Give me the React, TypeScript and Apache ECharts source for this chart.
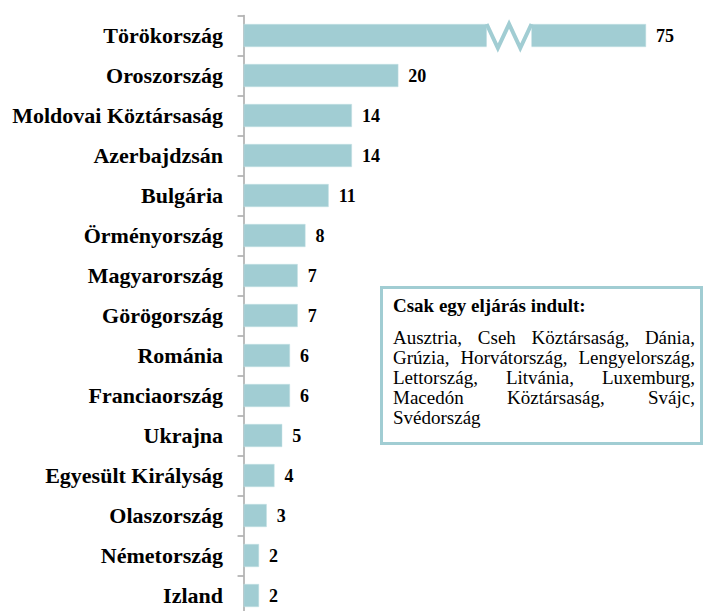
import React, { useEffect, useRef } from 'react';
import * as echarts from 'echarts';

const categories = [
  'Törökország', 'Oroszország', 'Moldovai Köztársaság', 'Azerbajdzsán', 'Bulgária',
  'Örményország', 'Magyarország', 'Görögország', 'Románia', 'Franciaország',
  'Ukrajna', 'Egyesült Királyság', 'Olaszország', 'Németország', 'Izland',
];
const values = [75, 20, 14, 14, 11, 8, 7, 7, 6, 6, 5, 4, 3, 2, 2];

// broken value axis: values above breakStart are shortened by hiddenSpan
const breakStart = 31.4;
const breakWidth = 5.8;
const hiddenSpan = 23;

const noteTitle = 'Csak egy eljárás indult:';
const noteCountries = [
  'Ausztria', 'Cseh Köztársaság', 'Dánia', 'Grúzia', 'Horvátország', 'Lengyelország',
  'Lettország', 'Litvánia', 'Luxemburg', 'Macedón Köztársaság', 'Svájc', 'Svédország',
];

const BAR = '#A1CDD3';
const SERIF = 'Liberation Serif';

export default function App() {
  const ref = useRef<HTMLDivElement>(null);
  useEffect(() => {
    const chart = echarts.init(ref.current!, null, { renderer: 'svg' });

    // note box text layout (justified)
    const bodySize = 19;
    const ctx = document.createElement('canvas').getContext('2d')!;
    ctx.font = `${bodySize}px "${SERIF}"`;
    const textLeft = 393;
    const textWidth = 302;
    const words = noteCountries.join(', ').split(' ');
    const lines: string[][] = [];
    let cur: string[] = [];
    for (const w of words) {
      const trial = [...cur, w].join(' ');
      if (cur.length && ctx.measureText(trial).width > textWidth) {
        lines.push(cur);
        cur = [w];
      } else cur.push(w);
    }
    if (cur.length) lines.push(cur);

    const textEls: any[] = [];
    const firstLineY = 337;
    const lineH = 20;
    lines.forEach((ln, li) => {
      const y = firstLineY + li * lineH;
      const last = li === lines.length - 1;
      const widths = ln.map((w) => ctx.measureText(w).width);
      const total = widths.reduce((a, b) => a + b, 0);
      const gap = last || ln.length < 2 ? ctx.measureText(' ').width : (textWidth - total) / (ln.length - 1);
      let x = textLeft;
      ln.forEach((w, wi) => {
        textEls.push({
          type: 'text',
          x,
          y,
          z: 101,
          style: {
            text: w,
            fontSize: bodySize,
            fontFamily: SERIF,
            fill: '#000',
            verticalAlign: 'middle',
            align: 'left',
          },
        });
        x += widths[wi] + gap;
      });
    });

    const display = values.map((v) => (v > breakStart ? v - hiddenSpan : v));

    chart.setOption({
      animation: false,
      grid: { left: 242, top: 15.5, width: 466, height: 600, outerBoundsMode: 'none', containLabel: false },
      xAxis: {
        type: 'value',
        min: -0.2,
        max: 60,
        show: false,
      },
      yAxis: {
        type: 'category',
        data: categories,
        inverse: true,
        axisLine: { show: true, lineStyle: { color: '#A6A6A6', width: 1.5 } },
        axisTick: { show: true, length: 6, lineStyle: { color: '#A6A6A6', width: 1.5 } },
        axisLabel: {
          margin: 19,
          fontSize: 22,
          fontWeight: 'bold',
          fontFamily: SERIF,
          color: '#000',
        },
        splitLine: { show: false },
      },
      series: [
        {
          type: 'bar',
          data: display,
          barWidth: 23,
          itemStyle: { color: BAR, borderColor: '#C4E0E4', borderWidth: 0.5 },
          label: {
            show: true,
            position: 'right',
            distance: 10,
            fontSize: 18,
            fontWeight: 'bold',
            fontFamily: SERIF,
            color: '#000',
            formatter: (p: any) => String(values[p.dataIndex]),
          },
        },
        {
          type: 'custom',
          z: 5,
          data: values.map((v, i) => [breakStart, i, v]).filter((d) => d[2] > breakStart),
          encode: { x: 0, y: 1 },
          renderItem: (params: any, api: any) => {
            const p = api.coord([api.value(0), api.value(1)]);
            const w = api.size([breakWidth, 0])[0];
            const h = 23;
            const top = p[1] - h / 2;
            const bot = p[1] + h / 2;
            const x0 = p[0];
            return {
              type: 'group',
              children: [
                {
                  type: 'rect',
                  shape: { x: x0, y: top - 1, width: w, height: h + 2 },
                  style: { fill: '#fff' },
                },
                {
                  type: 'polyline',
                  shape: {
                    points: [
                      [x0, top],
                      [x0 + w * 0.25, bot + 1],
                      [x0 + w * 0.5, top],
                      [x0 + w * 0.75, bot + 1],
                      [x0 + w, top],
                    ],
                  },
                  style: { stroke: BAR, lineWidth: 4, fill: 'none' },
                },
              ],
            };
          },
        },
      ],
      graphic: [
        {
          type: 'rect',
          z: 100,
          shape: { x: 381.5, y: 287.5, width: 320, height: 156 },
          style: { fill: '#fff', stroke: BAR, lineWidth: 3 },
        },
        {
          type: 'text',
          x: 393,
          y: 305,
          z: 101,
          style: {
            text: noteTitle,
            fontSize: 19,
            fontWeight: 'bold',
            fontFamily: SERIF,
            fill: '#000',
            verticalAlign: 'middle',
            align: 'left',
          },
        },
        ...textEls,
      ],
    });
    return () => chart.dispose();
  }, []);
  return <div ref={ref} style={{ position: 'absolute', left: 0, top: 0, width: 709, height: 611 }} />;
}
